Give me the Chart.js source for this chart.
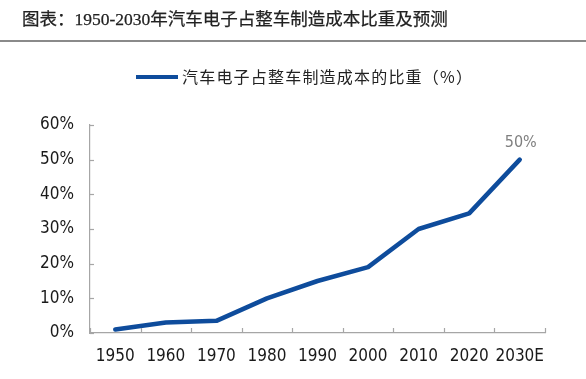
<!DOCTYPE html>
<html><head><meta charset="utf-8">
<script src="https://cdn.jsdelivr.net/npm/chart.js@4/dist/chart.umd.min.js"></script>
<style>
html,body{margin:0;padding:0;background:#fff;width:586px;height:379px;overflow:hidden;}
#title{position:absolute;left:22px;top:5px;font-family:"Liberation Serif","Noto Sans CJK SC",serif;font-size:17.5px;color:#222;white-space:nowrap;-webkit-text-stroke:0.25px #222;}
#rule{position:absolute;left:0;top:40px;width:586px;height:2px;background:#8a8a8a;}
#wrap{position:absolute;left:0;top:0;width:586px;height:379px;}
</style></head>
<body>
<div id="wrap"><canvas id="c" width="586" height="379"></canvas></div>
<div id="title">图表：1950-2030年汽车电子占整车制造成本比重及预测</div>
<div id="rule"></div>
<script>
const categories = ['1950','1960','1970','1980','1990','2000','2010','2020','2030E'];
const shareValues = [1, 3, 3.5, 10, 15, 19, 30, 34.5, 50];
const seriesLabel = '汽车电子占整车制造成本的比重（%）';
const yTicks = [0, 10, 20, 30, 40, 50, 60];

const BLUE = '#0e4c9c';
const TICKFONT = "'DejaVu Sans Condensed','DejaVu Sans','Liberation Sans',sans-serif";

const customPlugin = {
  id: 'custom',
  afterDraw(chart) {
    const ctx = chart.ctx;
    const xs = chart.scales.x, ys = chart.scales.y;
    const ca = chart.chartArea;
    ctx.save();
    ctx.strokeStyle = '#a6a6a6';
    ctx.lineWidth = 1.2;
    yTicks.forEach(v => {
      const y = Math.round(ys.getPixelForValue(v)) + 0.5;
      ctx.beginPath(); ctx.moveTo(ca.left, y); ctx.lineTo(ca.left + 4, y); ctx.stroke();
    });
    const band = xs.getPixelForValue(1) - xs.getPixelForValue(0);
    for (let i = 0; i <= categories.length; i++) {
      const x = Math.round(xs.getPixelForValue(0) - band / 2 + i * band) + 0.5;
      ctx.beginPath(); ctx.moveTo(x, ca.bottom); ctx.lineTo(x, ca.bottom - 5); ctx.stroke();
    }
    const meta = chart.getDatasetMeta(0);
    const last = meta.data[meta.data.length - 1];
    ctx.fillStyle = '#7f7f7f';
    ctx.font = "16px " + TICKFONT;
    ctx.textAlign = 'center';
    ctx.textBaseline = 'middle';
    ctx.fillText(shareValues[shareValues.length - 1] + '%', last.x + 1, last.y - 17);
    const lx0 = 136, lx1 = 178, ly = 77;
    ctx.strokeStyle = BLUE;
    ctx.lineWidth = 4;
    ctx.beginPath(); ctx.moveTo(lx0, ly); ctx.lineTo(lx1, ly); ctx.stroke();
    ctx.fillStyle = '#222';
    ctx.font = "16px 'Noto Sans CJK SC', sans-serif";
    ctx.textAlign = 'left';
    ctx.textBaseline = 'middle';
    try { ctx.letterSpacing = '1.2px'; } catch (e) {}
    ctx.fillText(chart.data.datasets[0].label, lx1 + 4, ly);
    try { ctx.letterSpacing = '0px'; } catch (e) {}
    ctx.restore();
  }
};

new Chart(document.getElementById('c'), {
  type: 'line',
  data: {
    labels: categories,
    datasets: [{
      label: seriesLabel,
      data: shareValues,
      borderColor: BLUE,
      backgroundColor: BLUE,
      borderWidth: 4.5,
      pointRadius: 0,
      tension: 0,
      borderCapStyle: 'round',
      borderJoinStyle: 'round',
      fill: false
    }]
  },
  options: {
    responsive: false,
    animation: false,
    devicePixelRatio: 1,
    layout: { padding: { left: 0, right: 41, top: 125, bottom: 0 } },
    plugins: { legend: { display: false }, tooltip: { enabled: false } },
    scales: {
      x: {
        offset: true,
        grid: { display: false, drawTicks: false, offset: true },
        border: { display: true, color: '#a6a6a6', width: 1.2 },
        ticks: { color: '#1a1a1a', font: { size: 17, family: TICKFONT }, padding: 13, maxRotation: 0, autoSkip: false },
        afterFit(s) { s.height = 46; }
      },
      y: {
        min: 0, max: 60,
        afterBuildTicks(s) { s.ticks = yTicks.map(v => ({ value: v })); },
        grid: { display: false, drawTicks: false },
        border: { display: true, color: '#a6a6a6', width: 1.2 },
        ticks: { color: '#1a1a1a', font: { size: 17, family: TICKFONT }, padding: 16, callback: v => v + '%' },
        afterFit(s) { s.width = 90; }
      }
    }
  },
  plugins: [customPlugin]
});
</script>
</body></html>
